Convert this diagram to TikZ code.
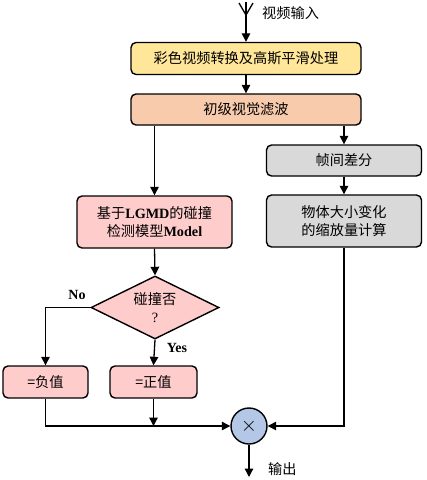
\documentclass[tikz,border=0pt]{standalone}
\usepackage{fontspec}
\setmainfont{Liberation Serif}
\newfontfamily\cjk{Noto Sans CJK SC}
\newfontfamily\tnr{Liberation Serif}
\usetikzlibrary{shapes.geometric,arrows.meta}
\definecolor{cyel}{HTML}{FFE699}
\definecolor{corg}{HTML}{F8CBAD}
\definecolor{cpink}{HTML}{FFCCCC}
\definecolor{cgrey}{HTML}{D9D9D9}
\definecolor{cblue}{HTML}{B4C7E7}
\begin{document}
\begin{tikzpicture}[x=1pt,y=-1pt,
  box/.style={draw=black,line width=1.4pt,rounded corners=5pt,align=center,inner sep=2pt,
    font=\cjk\fontsize{14.2}{18}\selectfont},
  arr/.style={line width=1.3pt,-{Triangle[length=8.5pt,width=8.5pt]}},
  ln/.style={line width=1.3pt},
  lab/.style={font=\cjk\fontsize{14.2}{17}\selectfont,inner sep=0pt},
  latlab/.style={font=\tnr\bfseries\fontsize{14}{15}\selectfont,inner sep=0pt}]
\useasboundingbox (0,0) rectangle (427,480);

\node[box,fill=cyel,minimum width=230pt,minimum height=32pt] (b1) at (246,58.5) {彩色视频转换及高斯平滑处理};
\node[box,fill=corg,minimum width=230pt,minimum height=31pt] (b2) at (246,109.5) {初级视觉滤波};
\node[box,fill=cpink,minimum width=155pt,minimum height=52pt] (b3) at (154.5,222) {基于{\tnr\bfseries LGMD}的碰撞\\检测模型{\tnr\bfseries Model}};
\node[box,fill=cgrey,minimum width=155pt,minimum height=31pt] (diff) at (344,160.5) {帧间差分};
\node[box,fill=cgrey,minimum width=155pt,minimum height=52pt] (sc) at (344,221) {物体大小变化\\的缩放量计算};
\node[draw=black,line width=1.4pt,fill=cpink,diamond,aspect=2,inner sep=0pt,minimum width=128pt,minimum height=63pt,align=center,
  font=\cjk\fontsize{14.2}{18}\selectfont] (dia) at (155,307.5) {碰撞否\\{\tnr ?}};
\node[box,fill=cpink,minimum width=85pt,minimum height=32pt] (neg) at (45.5,382) {=负值};
\node[box,fill=cpink,minimum width=87pt,minimum height=32pt] (pos) at (153.5,382) {=正值};
\node[circle,draw=black,line width=1.4pt,fill=cblue,minimum size=36pt,inner sep=0pt,font=\fontsize{20}{20}\selectfont] (mul) at (249,426) {$\times$};

\coordinate (in) at (246,2);
\coordinate (out) at (249,477);

\draw[arr] (in) -- (b1.north);
\draw[ln] (239,3) -- (246,15) -- (253,3);
\node[lab,anchor=west] (lin) at (262,13) {视频输入};
\draw[arr] (b1.south) -- (b2.north);
\draw[arr] (b3.north |- b2.south) -- (b3.north);
\draw[arr] (diff.north |- b2.south) -- (diff.north);
\draw[arr] (diff.south) -- (sc.north);
\draw[arr] (sc.south) |- (mul.east);
\draw[arr] (b3.south) -- (dia.north);
\draw[arr] (dia.west) -| (neg.north);
\node[latlab] (no) at (77,295) {No};
\draw[arr] (dia.south) -- (pos.north);
\node[latlab] (yes) at (177,348) {Yes};
\draw[arr] (neg.south) |- (mul.west);
\draw[arr] (pos.south) -- (pos.south |- mul.west);
\draw[arr] (mul.south) -- (out);
\node[lab,anchor=west] (lout) at (268,469) {输出};
\end{tikzpicture}
\end{document}
